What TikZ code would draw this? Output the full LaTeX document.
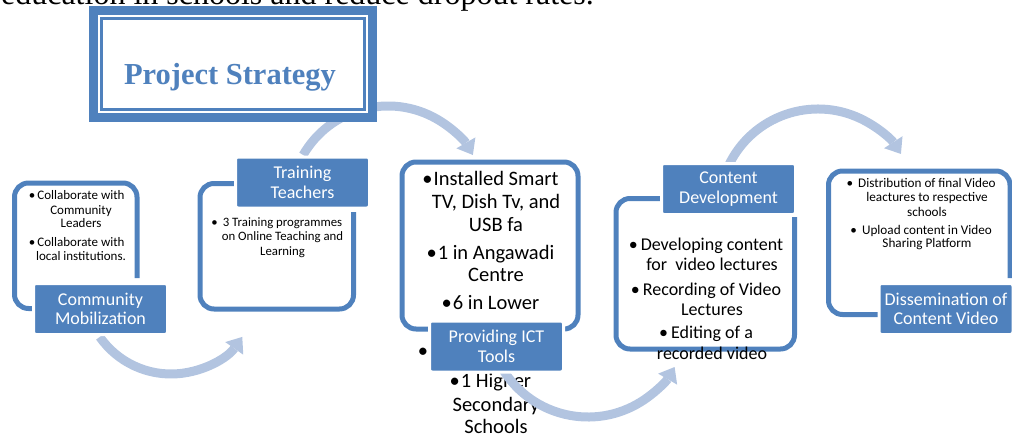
\documentclass[tikz,border=0pt]{standalone}
\usepackage{fontspec}
\setmainfont{Carlito}
\newfontfamily\seriffont{Liberation Serif}
\usetikzlibrary{arrows.meta,calc}
\definecolor{accent}{RGB}{79,129,189}
\definecolor{flowc}{RGB}{178,196,224}
\newcommand{\mybul}[1]{\llap{\textbullet\hspace{#1}}}
\begin{document}
\begin{tikzpicture}[x=1pt,y=1pt,
  frame/.style={draw=accent, line width=5pt, rounded corners=14pt},
  lbl/.style={fill=accent, draw=white, line width=3pt, rounded corners=2.5pt,
    minimum width=134pt, minimum height=51pt, inner sep=0pt, outer sep=0pt,
    text=white, align=center, font=\fontsize{18}{19.5}\selectfont},
  flow/.style={draw=flowc, line width=9pt,
    -{Triangle[width=22pt,length=14pt,line width=0pt]}},
  comtext/.style={font=\fontsize{13}{14}\selectfont, anchor=base, inner sep=0pt},
  tratext/.style={font=\fontsize{12.8}{14}\selectfont, anchor=base, inner sep=0pt},
  icttext/.style={font=\fontsize{20.5}{23}\selectfont, anchor=base, inner sep=0pt},
  context/.style={font=\fontsize{18}{20}\selectfont, anchor=base, inner sep=0pt},
  distext/.style={font=\fontsize{13.2}{14}\selectfont, anchor=base, inner sep=0pt}]
\useasboundingbox (0,0) rectangle (1012,-439);

% frames
\draw[frame] (137,-278) -- (137,-183) -- (14.5,-183) -- (14.5,-308.5) -- (38,-308.5);
\draw[frame] (234,-183.5) -- (200,-183.5) -- (200,-309) -- (353.5,-309) -- (353.5,-212);
\draw[frame] (402,-162) rectangle (578,-329);
\draw[frame] (661,-198.5) -- (616,-198.5) -- (616,-349) -- (794.5,-349) -- (794.5,-217);
\draw[frame] (1010,-278) -- (1010,-171) -- (828.5,-171) -- (828.5,-314.5) -- (884,-314.5);

% texts
\foreach \y/\t [count=\i] in {199.3/{\mybul{2pt}Collaborate with}, 214.3/Community, 227.7/Leaders,
    246/{\mybul{2pt}Collaborate with}, 260.3/{local institutions.}}
  \node[comtext] (com\i) at (81,-\y) {\t};
\foreach \y/\t [count=\i] in {226/{\mybul{5pt}3 Training programmes}, 240.7/{on Online Teaching and}, 255.7/Learning}
  \node[tratext] (tra\i) at (282.5,-\y) {\t};
\foreach \y/\t [count=\i] in {185/{\mybul{1pt}Installed Smart}, 208.3/{TV, Dish Tv, and}, 231.7/{USB fa},
    259.3/{\mybul{1pt}1 in Angawadi}, 281.7/Centre, 309.3/{\mybul{1pt}6 in Lower},
    387.3/{\mybul{1pt}1 Higher}, 411.7/Secondary, 433.3/Schools}
  \node[icttext] (ict\i) at (496,-\y) {\t};
\node[font=\fontsize{20.5}{23}\selectfont, inner sep=0pt] (ictbul) at (423,-353) {\textbullet};
\foreach \y/\t [count=\i] in {250/{\mybul{3pt}Developing content}, 270/{for\ \ video lectures},
    295/{\mybul{3pt}Recording of Video}, 315/Lectures, 338.3/{\mybul{3pt}Editing of a}, 359.3/{recorded video}}
  \node[context] (con\i) at (712,-\y) {\t};
\foreach \y/\t [count=\i] in {187.3/{\mybul{5pt}Distribution of final Video}, 201.7/{leactures to respective},
    216/schools, 234/{\mybul{5pt}Upload content in Video}, 247.3/{Sharing Platform}}
  \node[distext] (dis\i) at (927,-\y) {\t};

% flow arcs
\coordinate (c1) at (171,-287);
\coordinate (c2) at (388,-204);
\coordinate (c3) at (588,-317);
\coordinate (c4) at (818,-208);
\draw[flow] ($(c1)+(215:87)$) arc[start angle=215, end angle=325, radius=87];
\draw[flow] ($(c2)+(150:98)$) arc[start angle=150, end angle=30, radius=98];
\draw[flow] ($(c3)+(212:100)$) arc[start angle=212, end angle=330, radius=100];
\draw[flow] ($(c4)+(154.3:99)$) arc[start angle=154.3, end angle=33.1, radius=99];

% labels
\node[lbl] (lcom) at (100.5,-309) {Community\\Mobilization};
\node[lbl] (ltra) at (302.5,-182.5) {Training\\Teachers};
\node[lbl] (lict) at (496.5,-346.5) {Providing ICT\\Tools};
\node[lbl] (lcon) at (728.5,-189) {Content\\Development};
\node[lbl] (ldis) at (946,-309) {Dissemination of\\Content Video};

% title box
\node[draw=accent, line width=9pt, fill=white, minimum width=279pt, minimum height=107pt,
  inner sep=0pt, outer sep=0pt] (title) at (233,-64) {};
\draw[accent, line width=2.5pt] ([shift={(8,-8)}]title.north west) rectangle ([shift={(-8,8)}]title.south east);
\node[font=\seriffont\bfseries\fontsize{30.5}{36}\selectfont, text=accent, anchor=base, inner sep=0pt]
  (titletext) at (230,-84) {Project Strategy};

% top text
\node[font=\seriffont\fontsize{32}{38}\selectfont, anchor=base east, inner sep=0pt]
  (toptext) at (594,-5) {education in schools and reduce dropout rates.};
\end{tikzpicture}
\end{document}
